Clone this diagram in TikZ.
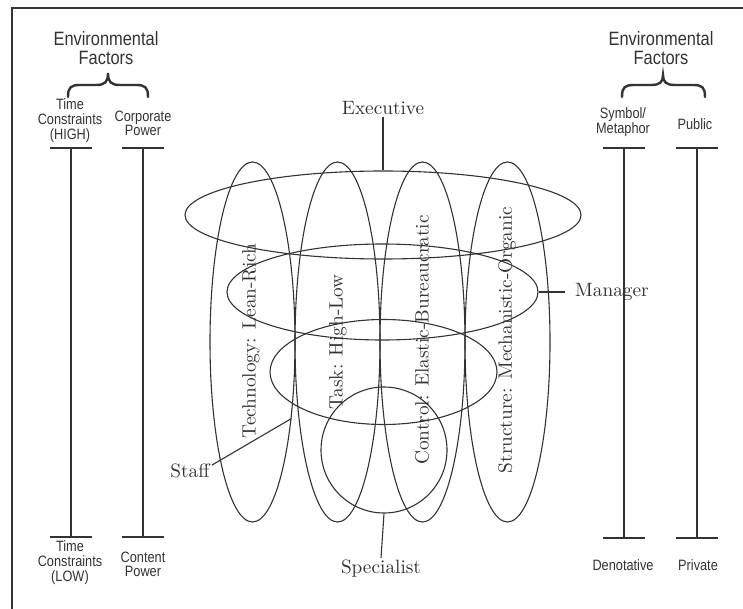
\documentclass[tikz,border=0pt]{standalone}
\usepackage{fontspec}
\newfontfamily\sansf{Liberation Sans}
\usetikzlibrary{shapes.geometric}
\definecolor{ink}{HTML}{333333}
\newcommand{\smallsans}[1]{\scalebox{0.85}[1]{\sansf\fontsize{15}{13.5}\selectfont\begin{tabular}{@{}c@{}}#1\end{tabular}}}
\newcommand{\envsans}{\scalebox{0.85}[1]{\sansf\fontsize{19.3}{18}\selectfont\begin{tabular}{@{}c@{}}Environmental\\Factors\end{tabular}}}
\newcommand{\bigserif}[1]{\scalebox{1.93}{\fontsize{10}{12}\selectfont #1}}
\begin{document}
\begin{tikzpicture}[x=1pt,y=-1pt,
  ln/.style={draw=ink,line width=1.1pt},
  vell/.style={ellipse,ln,minimum width=85pt,minimum height=360pt,inner sep=0pt},
  hell/.style={ellipse,ln,inner sep=0pt},
  serif/.style={text=ink,inner sep=2pt},
  rot/.style={text=ink,rotate=90,inner sep=0pt},
  sanslbl/.style={text=ink,inner sep=0pt},
  bracepath/.style={draw=ink,line width=2.4pt}]
\useasboundingbox (0,0) rectangle (743,609);
% border
\draw[ln] (12,609) -- (12,8) -- (743,8);

% vertical ellipses
\node[vell] (v1) at (252.5,342) {};
\node[vell] (v2) at (337.5,342) {};
\node[vell] (v3) at (422.5,342) {};
\node[vell] (v4) at (507.5,342) {};
% horizontal ellipses
\node[hell,minimum width=396pt,minimum height=88pt] (exe) at (383,215) {};
\node[hell,minimum width=311pt,minimum height=96pt] (mgr) at (382.5,292) {};
\node[hell,minimum width=227pt,minimum height=105pt] (stf) at (383.5,372) {};
\node[hell,minimum width=126pt,minimum height=126pt] (spc) at (384,450) {};

% rotated labels
\node[rot] (t1) at (251,341) {\bigserif{Technology: Lean-Rich}};
\node[rot] (t2) at (338,342) {\bigserif{Task: High-Low}};
\node[rot] (t3) at (422,340) {\bigserif{Control: Elastic-Bureaucratic}};
\node[rot] (t4) at (507,340) {\bigserif{Structure: Mechanistic-Organic}};

% level labels
\node[serif] (exeL) at (383,108) {\bigserif{Executive}};
\draw[ln] (exeL.south) -- (exe.north);
\node[serif,anchor=west,inner xsep=10pt] (mgrL) at (565,292) {\bigserif{Manager}};
\draw[ln] (mgr.east) -- (mgrL.west);
\node[serif] (stfL) at (190,471) {\bigserif{Staff}};
\draw[ln] (stfL.15) -- (v1.-63);
\node[serif] (spcL) at (381,569) {\bigserif{Specialist}};
\draw[ln] (spc.south) -- (spcL.north);

% environmental factors
\node[sanslbl] (envL) at (106,51) {\envsans};
\node[sanslbl] (envR) at (661,51) {\envsans};
\draw[bracepath,line cap=round] (68,97) .. controls (68,87) and (71,85) .. (80,85) -- (96,85) .. controls (105,85) and (108,82) .. (108,73) .. controls (108,82) and (111,85) .. (120,85) -- (136,85) .. controls (145,85) and (148,87) .. (148,97);
\draw[bracepath,line cap=round] (622,97) .. controls (622,87) and (625,85) .. (634,85) -- (651,85) .. controls (660,85) and (663,82) .. (663,75) .. controls (663,82) and (666,85) .. (675,85) -- (693,85) .. controls (702,85) and (705,87) .. (705,97);

% scale columns
\node[sanslbl] (c1t) at (70,121.5) {\smallsans{Time\\Constraints\\(HIGH)}};
\node[sanslbl] (c2t) at (143,125.5) {\smallsans{Corporate\\Power}};
\node[sanslbl] (c3t) at (623,123) {\smallsans{Symbol/\\Metaphor}};
\node[sanslbl] (c4t) at (695,126) {\smallsans{Public}};
\node[sanslbl] (c1b) at (70,563) {\smallsans{Time\\Constraints\\(LOW)}};
\node[sanslbl] (c2b) at (143,566) {\smallsans{Content\\Power}};
\node[sanslbl] (c3b) at (623,567) {\smallsans{Denotative}};
\node[sanslbl] (c4b) at (698,567) {\smallsans{Private}};

\coordinate (a1) at (71,148);  \coordinate (b1) at (71,537);
\coordinate (a2) at (143,148); \coordinate (b2) at (143,537);
\coordinate (a3) at (624,148); \coordinate (b3) at (624,538);
\coordinate (a4) at (697,148); \coordinate (b4) at (697,538);
\foreach \i in {1,2,3,4}{
  \draw[ln] (a\i) -- (b\i);
  \draw[ln] ([xshift=-21pt]a\i) -- ([xshift=21pt]a\i);
  \draw[ln] ([xshift=-21pt]b\i) -- ([xshift=21pt]b\i);
}
\end{tikzpicture}
\end{document}
